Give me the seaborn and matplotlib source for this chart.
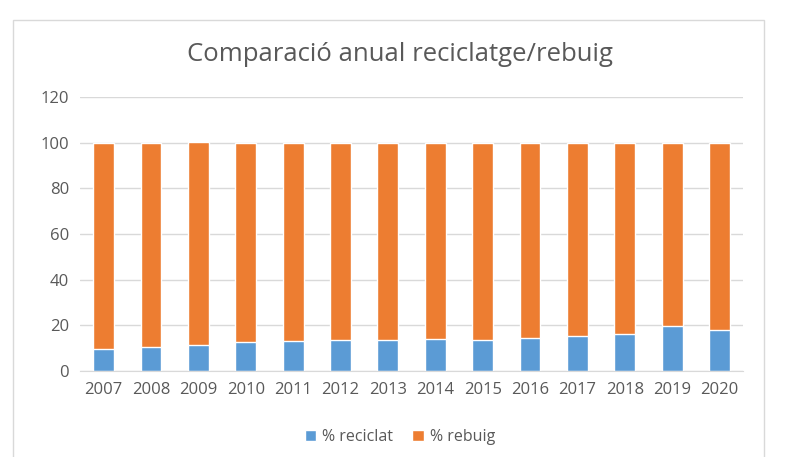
import seaborn as sns
import matplotlib.pyplot as plt
import pandas as pd
from matplotlib.patches import Rectangle

# Dades
anys = ['2007', '2008', '2009', '2010', '2011', '2012', '2013',
        '2014', '2015', '2016', '2017', '2018', '2019', '2020']
reciclat = [9.6, 10.6, 11.6, 12.9, 13.3, 13.5, 13.5,
            14.2, 13.8, 14.6, 15.4, 16.2, 19.7, 18.0]
rebuig = [90.4, 89.4, 88.8, 87.1, 86.7, 86.5, 86.5,
          85.8, 86.2, 85.4, 84.6, 83.8, 80.3, 82.0]
titol = 'Comparació anual reciclatge/rebuig'

blau = '#5B9BD5'
taronja = '#ED7D31'
gris = '#595959'

df = pd.DataFrame({'any': anys, 'reciclat': reciclat, 'rebuig': rebuig})
df['total'] = df['reciclat'] + df['rebuig']

sns.set_style('white')
plt.rcParams['font.family'] = ['Open Sans', 'DejaVu Sans']

fig = plt.figure(figsize=(8, 4.57), dpi=100)
ax = fig.add_axes([0.1, 0.188, 0.829, 0.6])

sns.barplot(data=df, x='any', y='total', color=taronja, width=0.44,
            saturation=1, ax=ax, label='% rebuig')
sns.barplot(data=df, x='any', y='reciclat', color=blau, width=0.44,
            saturation=1, ax=ax, label='% reciclat')

ax.set_ylim(0, 120)
ax.set_yticks(range(0, 121, 20))
ax.yaxis.grid(True, color='#D9D9D9', linewidth=1)
ax.set_axisbelow(True)
for s in ['top', 'right', 'left']:
    ax.spines[s].set_visible(False)
ax.spines['bottom'].set_color('#D9D9D9')
ax.set_xlabel('')
ax.set_ylabel('')
ax.tick_params(axis='both', length=0, labelsize=12, colors=gris, pad=8)
ax.set_xlim(-0.5, len(anys) - 0.5)

fig.text(0.5, 0.88, titol, ha='center', va='center', fontsize=18.5, color=gris)

h, l = ax.get_legend_handles_labels()
ax.legend([h[1], h[0]], [l[1], l[0]], loc='center', bbox_to_anchor=(0.5, 0.044),
          bbox_transform=fig.transFigure, ncol=2, frameon=False, fontsize=11.5,
          handlelength=0.7, handleheight=0.7, columnspacing=1.2,
          handletextpad=0.4, labelcolor=gris)

fig.add_artist(Rectangle((13 / 800, -0.05), (764 - 13) / 800, 1 - 20 / 457 + 0.05,
                         transform=fig.transFigure, fill=False,
                         edgecolor='#D9D9D9', linewidth=1))

plt.savefig('out.png', dpi=100)
